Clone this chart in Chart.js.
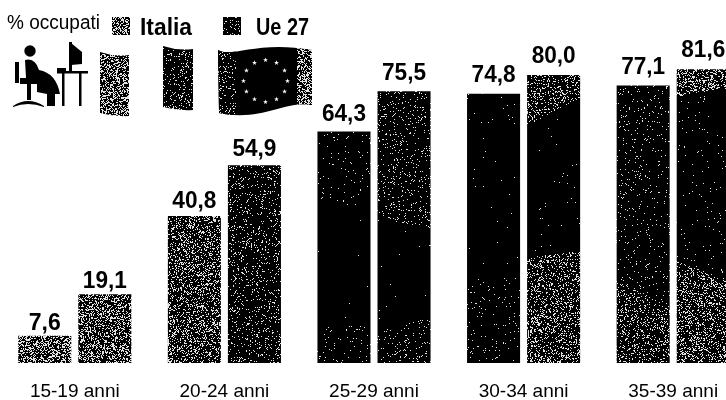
<!DOCTYPE html>
<html>
<head>
<meta charset="utf-8">
<title>% occupati</title>
<script src="https://cdn.jsdelivr.net/npm/chart.js@4/dist/chart.umd.min.js"></script>
<style>
html, body { margin: 0; padding: 0; background: #fff; overflow: hidden; }
#box { width: 726px; height: 400px; overflow: hidden; }
</style>
</head>
<body>
<div id="box"><canvas id="occupati" width="748" height="400"></canvas></div>
<script>
const categories = ['15-19 anni', '20-24 anni', '25-29 anni', '30-34 anni', '35-39 anni'];
const italia = [7.6, 40.8, 64.3, 74.8, 77.1];
const ue27 = [19.1, 54.9, 75.5, 80.0, 81.6];

const font = '"Liberation Sans", Arial, sans-serif';

// small fixed generator, only for the printed grain of the bars
let seed = 12345;
function grain() {
    seed = (seed * 1664525 + 1013904223) % 4294967296;
    return seed / 4294967296;
}

// tile as big as the canvas, so the speckle can change across each bar
function speckle(ctx, densityAt) {
    const tile = document.createElement('canvas');
    tile.width = 748;
    tile.height = 400;
    const t = tile.getContext('2d');
    t.fillStyle = '#000';
    t.fillRect(0, 0, 748, 400);
    t.fillStyle = '#e4e4e4';
    for (let y = 0; y < 400; y++) {
        for (let x = 0; x < 748; x++) {
            if (grain() < densityAt(x, y)) t.fillRect(x, y, 1, 1);
        }
    }
    return ctx.createPattern(tile, 'repeat');
}

const canvas = document.getElementById('occupati');
const ctx = canvas.getContext('2d');

const light = speckle(ctx, () => 0.38);
const dark = speckle(ctx, () => 0.1);

const italiaFill = [
    light,
    speckle(ctx, () => 0.24),
    speckle(ctx, (x, y) => (y < 205 ? 0.025 : y > 325 ? 0.025 : 0.001)),
    speckle(ctx, (x, y) => (y < 135 ? 0.01 : y > 277 ? 0.03 : 0.003)),
    speckle(ctx, (x, y) => (y > 280 + (x - 617) * 0.5 ? 0.16 : 0.035))
];
const ueFill = [
    speckle(ctx, () => 0.32),
    dark,
    speckle(ctx, (x, y) => {
        if (y < 217 + (x - 378) * 0.25) return 0.07;
        return y > 330 - (x - 378) * 0.25 ? 0.07 : 0.002;
    }),
    speckle(ctx, (x, y) => {
        if (y < 125 - (x - 527) * 0.53) return 0.18;
        return y > 257 - (x - 527) * 0.13 ? 0.21 : 0.004;
    }),
    speckle(ctx, (x, y) => {
        if (y < 97 - (x - 675) * 0.2) return 0.27;
        return y > 260 + (x - 675) * 0.4 ? 0.23 : 0.015;
    })
];

function flagStrip(c, x, y, w, h, fill) {
    c.beginPath();
    c.moveTo(x, y);
    c.quadraticCurveTo(x + w / 2, y + 5, x + w, y + 3);
    c.lineTo(x + w, y + h + 2);
    c.quadraticCurveTo(x + w / 2, y + h + 3, x, y + h - 1);
    c.closePath();
    c.fillStyle = fill;
    c.fill();
}

// legend, worker pictogram and flags are drawn in the chart's own canvas
const header = {
    id: 'header',
    afterDraw(chart) {
        const c = chart.ctx;
        c.save();
        c.textBaseline = 'alphabetic';
        c.textAlign = 'left';
        c.fillStyle = '#000';
        c.font = '20px ' + font;
        c.fillText('% occupati', 7, 29, 93);
        c.font = 'bold 24px ' + font;
        c.fillText('Italia', 140, 35, 52);
        c.fillText('Ue 27', 256, 35, 53);
        c.fillStyle = light;
        c.fillRect(112, 17, 18, 18);
        c.fillStyle = dark;
        c.fillRect(223, 17, 18, 18);

        // pictogram
        c.fillStyle = '#000';
        c.beginPath();
        c.arc(30, 51, 5.7, 0, Math.PI * 2);
        c.fill();
        c.beginPath();
        c.moveTo(25, 60);
        c.quadraticCurveTo(35, 57, 39, 70);
        c.quadraticCurveTo(56, 73, 60, 94);
        c.lineTo(55, 94);
        c.lineTo(55, 106);
        c.lineTo(47, 106);
        c.lineTo(47, 94);
        c.lineTo(37, 92);
        c.lineTo(37, 84);
        c.lineTo(20, 84);
        c.lineTo(20, 78);
        c.lineTo(26, 78);
        c.closePath();
        c.fill();
        c.fillRect(15, 62, 4, 21);
        c.fillRect(27, 84, 4, 16);
        c.beginPath();
        c.moveTo(13, 106);
        c.quadraticCurveTo(28, 96, 44, 106);
        c.lineTo(44, 107);
        c.quadraticCurveTo(28, 101, 13, 107);
        c.closePath();
        c.fill();
        c.fillRect(57, 71, 31, 2.5);
        c.fillRect(57, 68, 9, 4);
        c.fillRect(62, 73, 2.5, 33);
        c.fillRect(79, 73, 2.5, 33);
        c.fillRect(69, 42, 3, 29);
        c.beginPath();
        c.moveTo(71, 43);
        c.lineTo(82, 52);
        c.lineTo(82, 64);
        c.lineTo(71, 65);
        c.closePath();
        c.fill();

        // flag of Italy without its white band, flag of the EU
        flagStrip(c, 100, 52, 29, 62, light);
        flagStrip(c, 163, 46, 30, 62, dark);
        c.save();
        c.beginPath();
        c.moveTo(218, 50);
        c.bezierCurveTo(232, 58, 258, 40, 312, 50);
        c.lineTo(312, 105);
        c.bezierCurveTo(285, 100, 262, 122, 219, 113);
        c.closePath();
        c.fillStyle = '#000';
        c.fill();
        c.clip();
        c.fillStyle = dark;
        c.fillRect(218, 40, 18, 80);
        c.fillStyle = light;
        c.fillRect(297, 40, 16, 80);
        c.restore();
        c.fillStyle = '#fff';
        for (let i = 0; i < 12; i++) {
            const a = i * Math.PI / 6;
            const sx = 265.5 + Math.cos(a) * 22;
            const sy = 81 + Math.sin(a) * 21;
            c.beginPath();
            for (let k = 0; k < 10; k++) {
                const r = k % 2 ? 1 : 2.6;
                const b = -Math.PI / 2 + k * Math.PI / 5;
                c.lineTo(sx + Math.cos(b) * r, sy + Math.sin(b) * r);
            }
            c.closePath();
            c.fill();
        }
        c.restore();
    }
};

// value on top of every bar, with the decimal comma
const valueLabels = {
    id: 'valueLabels',
    afterDatasetsDraw(chart) {
        const c = chart.ctx;
        c.save();
        c.font = 'bold 24px ' + font;
        c.fillStyle = '#000';
        c.textAlign = 'center';
        c.textBaseline = 'alphabetic';
        chart.data.datasets.forEach((ds, i) => {
            chart.getDatasetMeta(i).data.forEach((bar, j) => {
                const text = ds.data[j].toFixed(1).replace('.', ',');
                const gap = 5 + ds.data[j] * 0.085;
                c.fillText(text, bar.x, bar.y - gap, text.length === 3 ? 32 : 44);
            });
        });
        c.restore();
    }
};

new Chart(ctx, {
    type: 'bar',
    data: {
        labels: categories,
        datasets: [
            { label: 'Italia', data: italia, backgroundColor: italiaFill },
            { label: 'Ue 27', data: ue27, backgroundColor: ueFill }
        ]
    },
    options: {
        responsive: false,
        animation: false,
        devicePixelRatio: 1,
        layout: { padding: { top: 3, left: 0, right: 0, bottom: 0 } },
        plugins: { legend: { display: false }, tooltip: { enabled: false } },
        datasets: { bar: { categoryPercentage: 0.803, barPercentage: 0.883 } },
        scales: {
            x: {
                afterFit(axis) { axis.height = 37; },
                grid: { display: false, drawTicks: false },
                border: { display: false },
                ticks: {
                    color: '#000',
                    font: { family: font, size: 19 },
                    maxRotation: 0,
                    padding: 17
                }
            },
            y: { display: false, min: 0, max: 100 }
        }
    },
    plugins: [valueLabels, header]
});
</script>
</body>
</html>
